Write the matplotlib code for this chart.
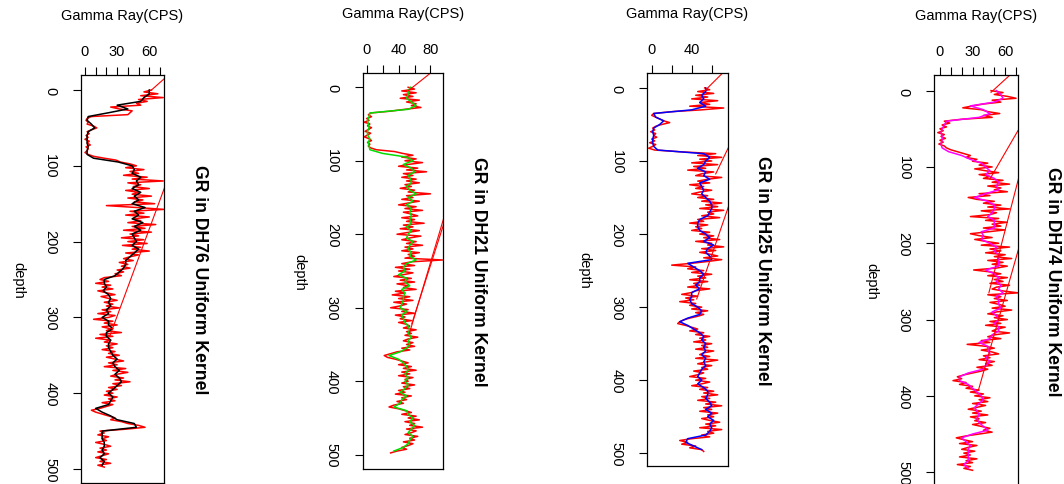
import numpy as np
import matplotlib.pyplot as plt

plt.rcParams['font.family'] = ['Liberation Sans', 'DejaVu Sans']

W, H = 1064, 485

# sample depths: raw log every 2.5 m, kernel-smoothed log every 5 m
depth_raw = np.arange(0, 500, 2.5)
depth_smooth = np.arange(0, 500, 5)

wells = ['DH76', 'DH21', 'DH25', 'DH74']

dh76_raw = [
    62, 55, 68, 52, 73, 50, 58, 48, 52, 24, 32, 44, 42, 40, 6, 2, 1, 3, 2, 8,
    11, 6, 2, 4, 1, 3, 0, 4, 2, 5, 1, 3, 2, 0, 3, 8, 18, 29, 33, 42,
    48, 38, 55, 42, 50, 36, 58, 44, 73, 40, 52, 45, 60, 38, 50, 44, 62, 40, 54, 46,
    65, 20, 48, 74, 42, 55, 38, 60, 45, 52, 40, 66, 44, 56, 36, 62, 42, 50, 34, 55,
    40, 58, 35, 52, 44, 60, 38, 50, 42, 36, 45, 32, 40, 34, 42, 30, 36, 28, 34, 18,
    14, 22, 10, 24, 16, 26, 12, 20, 28, 15, 22, 30, 18, 26, 20, 32, 16, 24, 12, 28,
    22, 8, 26, 18, 30, 16, 24, 20, 34, 14, 26, 10, 24, 18, 30, 20, 26, 16, 28, 22,
    32, 20, 28, 36, 22, 30, 18, 38, 26, 40, 30, 24, 36, 28, 42, 26, 34, 22, 30, 20,
    26, 18, 30, 22, 28, 16, 26, 20, 14, 6, 10, 16, 22, 28, 24, 34, 40, 50, 56, 38,
    14, 18, 12, 22, 16, 20, 10, 18, 24, 14, 20, 12, 22, 16, 10, 20, 14, 24, 12, 18,
]
dh76_smooth = [
    60, 60, 55, 52, 30, 40, 22, 3, 2, 6,
    9, 3, 2, 2, 2, 3, 2, 2, 8, 31,
    44, 46, 44, 52, 48, 50, 44, 52, 46, 50,
    44, 56, 46, 50, 44, 54, 46, 52, 44, 46,
    48, 44, 50, 46, 42, 38, 38, 36, 32, 28,
    18, 18, 20, 17, 22, 24, 22, 24, 20, 22,
    16, 22, 22, 26, 20, 20, 24, 22, 22, 24,
    26, 30, 26, 28, 32, 28, 32, 34, 30, 26,
    22, 26, 24, 22, 10, 16, 24, 30, 46, 48,
    16, 16, 16, 18, 18, 16, 18, 14, 18, 16,
]

dh21_raw = [
    52, 60, 44, 62, 46, 58, 42, 66, 50, 62, 56, 68, 48, 30, 5, 2, 6, 0, 3, -3,
    4, 1, 6, 2, -2, 5, 1, -3, 3, 6, 1, 4, 2, 5, 12, 35, 45, 58, 44, 62,
    48, 70, 52, 40, 64, 50, 75, 46, 58, 44, 62, 50, 66, 48, 56, 42, 60, 52, 80, 50,
    58, 44, 66, 52, 40, 62, 48, 70, 46, 56, 64, 44, 60, 50, 72, 46, 58, 42, 66, 52,
    38, 68, 54, 44, 62, 50, 70, 48, 58, 44, 66, 52, 60, 48, 95, 56, 44, 60, 36, 54,
    40, 58, 46, 34, 56, 42, 60, 38, 52, 46, 62, 36, 48, 32, 54, 40, 58, 34, 50, 42,
    30, 52, 44, 60, 36, 48, 42, 56, 40, 50, 54, 46, 62, 50, 56, 48, 64, 52, 46, 58,
    50, 60, 44, 54, 38, 30, 22, 26, 36, 44, 52, 40, 56, 46, 62, 44, 54, 40, 58, 48,
    52, 44, 60, 46, 54, 40, 48, 36, 56, 44, 50, 38, 46, 34, 28, 40, 48, 56, 44, 62,
    52, 66, 48, 60, 54, 70, 50, 62, 56, 48, 64, 54, 60, 46, 58, 52, 44, 50, 38, 30,
]
dh21_smooth = [
    55, 52, 52, 50, 56, 62, 52, 4, 3, 1,
    2, 3, 1, 1, 4, 2, 3, 4, 20, 50,
    58, 46, 56, 60, 52, 55, 56, 50, 54, 62,
    52, 58, 50, 56, 54, 56, 54, 56, 50, 56,
    52, 50, 58, 54, 52, 56, 54, 62, 50, 46,
    48, 40, 50, 48, 54, 44, 48, 46, 46, 44,
    42, 50, 44, 46, 48, 52, 54, 52, 56, 52,
    54, 50, 42, 28, 40, 46, 50, 52, 48, 52,
    48, 52, 48, 42, 50, 44, 42, 34, 50, 52,
    58, 54, 60, 56, 52, 58, 54, 52, 46, 34,
]

dh25_raw = [
    53, 58, 46, 62, 44, 56, 40, 66, 48, 58, 38, 72, 50, 20, 2, 0, 4, 8, 12, 18,
    10, 4, 1, 3, -1, 4, 2, 5, 0, 3, -2, 4, 1, -3, 3, 30, 64, 46, 70, 48,
    60, 40, 66, 42, 54, 36, 62, 50, 44, 70, 56, 46, 58, 38, 52, 44, 60, 48, 40, 56,
    46, 62, 50, 70, 54, 66, 48, 72, 56, 62, 50, 68, 46, 52, 38, 56, 44, 50, 40, 58,
    48, 62, 52, 68, 44, 60, 56, 72, 50, 64, 48, 58, 66, 52, 70, 56, 40, 20, 44, 36,
    52, 40, 60, 46, 54, 38, 56, 42, 48, 36, 58, 44, 40, 30, 46, 34, 42, 28, 44, 38,
    50, 40, 56, 44, 52, 46, 38, 32, 28, 26, 34, 40, 46, 38, 52, 44, 58, 48, 54, 42,
    60, 50, 56, 44, 62, 52, 48, 58, 44, 66, 54, 46, 60, 50, 56, 42, 52, 46, 38, 54,
    44, 58, 50, 40, 56, 48, 62, 52, 66, 50, 58, 46, 64, 54, 70, 52, 60, 48, 66, 56,
    62, 50, 58, 68, 54, 64, 48, 70, 56, 62, 50, 58, 40, 28, 36, 30, 44, 38, 50, 52,
]
dh25_smooth = [
    54, 54, 50, 52, 48, 54, 40, 2, 4, 12,
    8, 2, 1, 2, 1, 1, 2, 6, 52, 58,
    54, 52, 46, 54, 52, 58, 48, 50, 52, 50,
    54, 58, 60, 60, 58, 56, 48, 46, 46, 48,
    54, 58, 52, 62, 56, 54, 58, 60, 36, 42,
    48, 52, 48, 48, 44, 48, 40, 40, 38, 40,
    46, 50, 48, 36, 28, 36, 42, 48, 52, 50,
    54, 52, 54, 50, 54, 52, 54, 50, 48, 46,
    50, 46, 52, 56, 56, 54, 58, 60, 54, 60,
    56, 62, 58, 60, 58, 54, 36, 34, 42, 50,
]

dh74_raw = [
    47, 58, 50, 62, 70, 48, 56, 40, 30, 21, 38, 44, 55, 40, 48, 20, 4, 9, 2, 6,
    0, 3, -2, 4, 1, 5, 0, 3, -1, 4, 6, 10, 16, 22, 28, 24, 34, 30, 44, 36,
    48, 32, 42, 54, 36, 46, 40, 58, 48, 64, 44, 56, 50, 62, 36, 46, 26, 34, 50, 40,
    56, 44, 64, 38, 52, 46, 28, 54, 42, 62, 48, 56, 40, 60, 44, 28, 36, 48, 32, 42,
    54, 38, 64, 46, 56, 42, 60, 50, 66, 44, 58, 48, 62, 52, 31, 46, 56, 44, 62, 50,
    58, 46, 64, 52, 48, 58, 72, 44, 56, 50, 62, 46, 54, 60, 48, 66, 52, 44, 58, 50,
    62, 46, 56, 42, 60, 52, 48, 64, 50, 44, 56, 38, 46, 25, 42, 50, 38, 48, 54, 40,
    46, 36, 50, 42, 48, 34, 44, 38, 30, 22, 16, 20, 12, 24, 18, 30, 24, 36, 28, 40,
    32, 46, 36, 44, 30, 42, 34, 26, 38, 30, 44, 28, 36, 32, 42, 30, 38, 46, 40, 48,
    36, 24, 15, 22, 30, 18, 34, 26, 20, 32, 22, 28, 18, 34, 24, 30, 16, 28, 22, 30,
]
dh74_smooth = [
    52, 56, 58, 50, 28, 40, 46, 36, 6, 4,
    2, 1, 2, 2, 1, 2, 8, 20, 28, 38,
    42, 46, 42, 50, 54, 52, 54, 42, 32, 44,
    50, 50, 48, 44, 50, 50, 50, 38, 40, 38,
    46, 52, 50, 54, 54, 54, 54, 42, 50, 54,
    52, 56, 54, 58, 52, 54, 54, 56, 48, 52,
    54, 50, 54, 54, 48, 46, 36, 44, 44, 46,
    42, 46, 42, 40, 26, 18, 18, 26, 30, 34,
    38, 40, 36, 32, 34, 36, 34, 36, 40, 44,
    30, 20, 24, 28, 26, 26, 26, 26, 22, 26,
]

# straight connector segments of the raw series (GR pairs, depth pairs)
dh76_link_gr = [(62, 94), (23.3, 81.7)]
dh76_link_depth = [(0, -40), (324, 100)]
dh21_link_gr = [(52.3, 104), (53.5, 104.3), (56.5, 107.2)]
dh21_link_depth = [(4.6, -40), (335, 150), (322, 150)]
dh25_link_gr = [(53.3, 85.3), (64, 84.3), (45, 82.4)]
dh25_link_depth = [(3.6, -40), (117.7, 60), (288.8, 140)]
dh74_link_gr = [(47, 79.4), (46, 80.9), (45, 78.7), (35.3, 79.8)]
dh74_link_depth = [(2.2, -40), (115.7, 30), (265, 80), (393, 170)]

raw_logs = [dh76_raw, dh21_raw, dh25_raw, dh74_raw]
smooth_logs = [dh76_smooth, dh21_smooth, dh25_smooth, dh74_smooth]
link_gr = [dh76_link_gr, dh21_link_gr, dh25_link_gr, dh74_link_gr]
link_depth = [dh76_link_depth, dh21_link_depth, dh25_link_depth, dh74_link_depth]

gr_ticks = [
    [0, 10, 20, 30, 40, 50, 60, 70],
    [0, 20, 40, 60, 80],
    [0, 20, 40, 60],
    [0, 10, 20, 30, 40, 50, 60, 70],
]
gr_tick_labels = [
    ['0', '', '', '30', '', '', '60', ''],
    ['0', '', '40', '', '80'],
    ['0', '', '40', ''],
    ['0', '', '', '30', '', '', '60', ''],
]
depth_ticks = [0, 100, 200, 300, 400, 500]

smooth_colors = ['black', '#00dd00', '#0000ff', '#ff00ff']

# panel boxes in pixels: left, right, top, bottom; and axis limits
boxes = [(81, 164, 76, 484), (362.7, 443.5, 74, 470),
         (647.3, 727.7, 74.3, 467.3), (934.3, 1018, 76, 487.3)]
xlims = [(-3.7, 73.7), (-5, 96.3), (-4.4, 76), (-5.2, 71.8)]
ylims = [(518.5, -19.8), (519.4, -19.4), (517.8, -20), (518.5, -20.5)]

fig = plt.figure(figsize=(W / 100, H / 100), dpi=100)

for i, well in enumerate(wells):
    l, r, t, b = boxes[i]
    ax = fig.add_axes([l / W, 1 - b / H, (r - l) / W, (b - t) / H])

    ax.plot(raw_logs[i], depth_raw, color='red', lw=1.1)
    ax.plot(smooth_logs[i], depth_smooth, color=smooth_colors[i], lw=1.1)
    for g, d in zip(link_gr[i], link_depth[i]):
        ax.plot(g, d, color='red', lw=0.8)

    ax.set_xlim(*xlims[i])
    ax.set_ylim(*ylims[i])

    ax.xaxis.tick_top()
    ax.set_xticks(gr_ticks[i], gr_tick_labels[i])
    ax.set_yticks(depth_ticks, [str(v) for v in depth_ticks])
    ax.tick_params(axis='x', length=5.8, width=0.8, pad=6.3, labelsize=10.5)
    ax.tick_params(axis='y', length=5.8, width=0.8, pad=11.3, labelsize=10.5)
    for lbl in ax.get_yticklabels():
        lbl.set_rotation(-90)
        lbl.set_va('center')
    for sp in ax.spines.values():
        sp.set_linewidth(0.9)

    ax.annotate('Gamma Ray(CPS)', xy=(0.5, 1), xycoords='axes fraction',
                xytext=(0, 60), textcoords='offset pixels',
                ha='center', va='center', fontsize=10.5)
    ax.annotate('depth', xy=(0, 0.5), xycoords='axes fraction',
                xytext=(-63, 0), textcoords='offset pixels',
                ha='center', va='center', rotation=-90, fontsize=10.5)
    ax.annotate(f'GR in {well} Uniform Kernel', xy=(1, 0.5), xycoords='axes fraction',
                xytext=(35, 0), textcoords='offset pixels',
                ha='center', va='center', rotation=-90, fontsize=12.7,
                fontweight='bold')

fig.savefig('out.png', dpi=100)
